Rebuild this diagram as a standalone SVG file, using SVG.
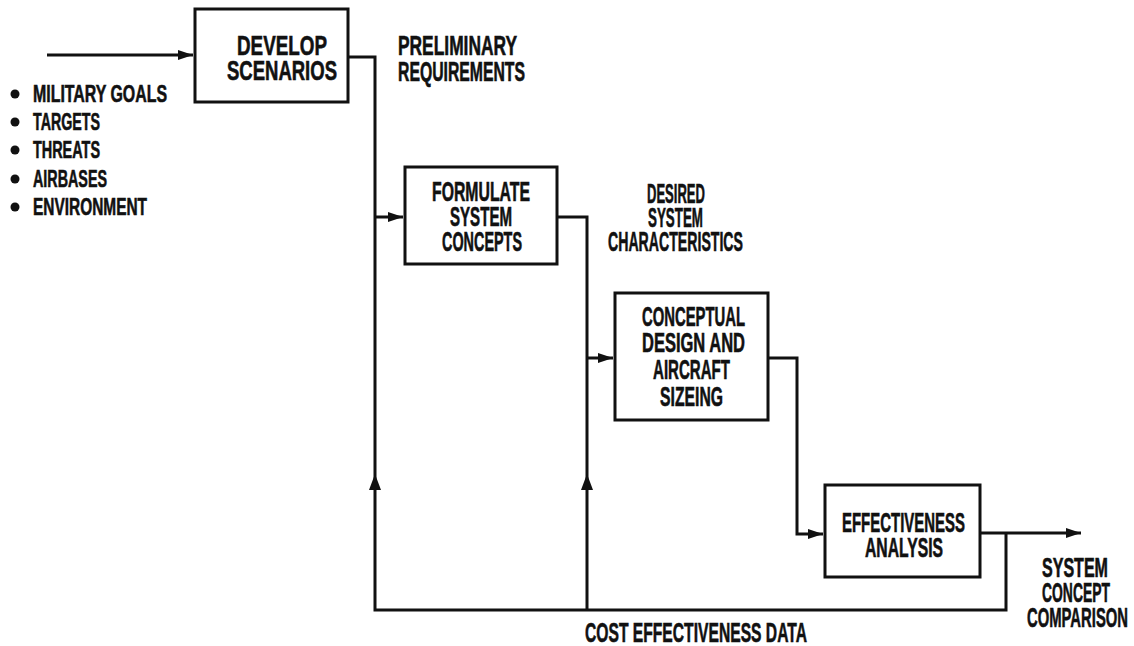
<svg xmlns="http://www.w3.org/2000/svg" width="1134" height="646" viewBox="0 0 1134 646">
<defs>
<marker id="ah" markerUnits="userSpaceOnUse" markerWidth="16" markerHeight="12" refX="15" refY="6" orient="auto">
<path d="M0,1 L15,6 L0,11 z" fill="#111"/>
</marker>
<style>
.box{fill:#fff;stroke:#111;stroke-width:3}
.ln{fill:none;stroke:#111;stroke-width:3;stroke-linejoin:miter}
.t{font-family:"Liberation Sans Narrow","Liberation Sans",Arial,sans-serif;font-weight:bold;font-size:27px;fill:#111;stroke:#111;stroke-width:0.6}
.s{font-size:24px}
</style>
</defs>
<rect width="1134" height="646" fill="#fff"/>
<g id="connectors">
<path class="ln" d="M47,55 H193" marker-end="url(#ah)"/>
<path class="ln" d="M348,57 H375 V610 H1006 V533"/>
<path class="ln" d="M375,217 H403" marker-end="url(#ah)"/>
<path class="ln" d="M557,217 H587 V610"/>
<path class="ln" d="M587,358 H613" marker-end="url(#ah)"/>
<path class="ln" d="M768,358 H797 V534 H823" marker-end="url(#ah)"/>
<path class="ln" d="M980,533 H1081" marker-end="url(#ah)"/>
<polygon points="375,474 369,490 381,490" fill="#111"/>
<polygon points="587,474 581,490 593,490" fill="#111"/>
</g>
<g id="inputs">
<circle cx="15" cy="94" r="4.5" fill="#111"/>
<text class="t s" x="33" y="102" textLength="134" lengthAdjust="spacingAndGlyphs">MILITARY GOALS</text>
<circle cx="15" cy="122" r="4.5" fill="#111"/>
<text class="t s" x="33" y="130" textLength="67" lengthAdjust="spacingAndGlyphs">TARGETS</text>
<circle cx="15" cy="150" r="4.5" fill="#111"/>
<text class="t s" x="33" y="158" textLength="67" lengthAdjust="spacingAndGlyphs">THREATS</text>
<circle cx="15" cy="179" r="4.5" fill="#111"/>
<text class="t s" x="33" y="187" textLength="74" lengthAdjust="spacingAndGlyphs">AIRBASES</text>
<circle cx="15" cy="207" r="4.5" fill="#111"/>
<text class="t s" x="33" y="215" textLength="114" lengthAdjust="spacingAndGlyphs">ENVIRONMENT</text>
</g>
<g id="develop-scenarios">
<rect class="box" x="195" y="9" width="153" height="93"/>
<text class="t" x="237" y="55" textLength="90" lengthAdjust="spacingAndGlyphs">DEVELOP</text>
<text class="t" x="227" y="80" textLength="110" lengthAdjust="spacingAndGlyphs">SCENARIOS</text>
</g>
<g id="label-preliminary">
<text class="t" x="398" y="55" textLength="119" lengthAdjust="spacingAndGlyphs">PRELIMINARY</text>
<text class="t" x="398" y="81" textLength="127" lengthAdjust="spacingAndGlyphs">REQUIREMENTS</text>
</g>
<g id="formulate-system-concepts">
<rect class="box" x="405" y="167" width="152" height="97"/>
<text class="t" x="432" y="201" textLength="98" lengthAdjust="spacingAndGlyphs">FORMULATE</text>
<text class="t" x="450" y="226" textLength="62" lengthAdjust="spacingAndGlyphs">SYSTEM</text>
<text class="t" x="442" y="251" textLength="80" lengthAdjust="spacingAndGlyphs">CONCEPTS</text>
</g>
<g id="label-desired">
<text class="t" x="647" y="203" textLength="58" lengthAdjust="spacingAndGlyphs">DESIRED</text>
<text class="t" x="648" y="227" textLength="55" lengthAdjust="spacingAndGlyphs">SYSTEM</text>
<text class="t" x="608" y="251" textLength="135" lengthAdjust="spacingAndGlyphs">CHARACTERISTICS</text>
</g>
<g id="conceptual-design">
<rect class="box" x="615" y="293" width="153" height="127"/>
<text class="t" x="642" y="326" textLength="103" lengthAdjust="spacingAndGlyphs">CONCEPTUAL</text>
<text class="t" x="642" y="352" textLength="103" lengthAdjust="spacingAndGlyphs">DESIGN AND</text>
<text class="t" x="653" y="379" textLength="77" lengthAdjust="spacingAndGlyphs">AIRCRAFT</text>
<text class="t" x="660" y="406" textLength="63" lengthAdjust="spacingAndGlyphs">SIZEING</text>
</g>
<g id="effectiveness-analysis">
<rect class="box" x="825" y="485" width="155" height="92"/>
<text class="t" x="842" y="532" textLength="123" lengthAdjust="spacingAndGlyphs">EFFECTIVENESS</text>
<text class="t" x="865" y="557" textLength="78" lengthAdjust="spacingAndGlyphs">ANALYSIS</text>
</g>
<g id="label-output">
<text class="t" x="1042" y="577" textLength="66" lengthAdjust="spacingAndGlyphs">SYSTEM</text>
<text class="t" x="1042" y="602" textLength="68" lengthAdjust="spacingAndGlyphs">CONCEPT</text>
<text class="t" x="1027" y="627" textLength="101" lengthAdjust="spacingAndGlyphs">COMPARISON</text>
</g>
<g id="label-cost">
<text class="t" x="585" y="642" textLength="222" lengthAdjust="spacingAndGlyphs">COST EFFECTIVENESS DATA</text>
</g>
</svg>
